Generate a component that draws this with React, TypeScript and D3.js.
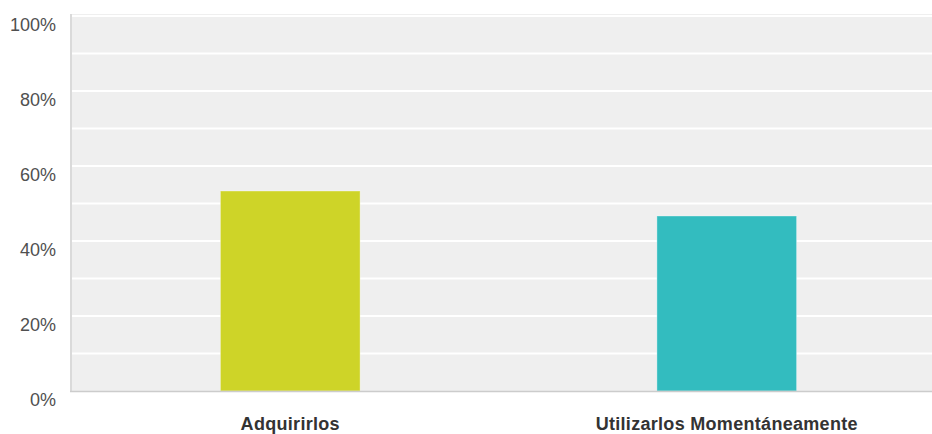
import React, { useEffect } from "react";
import * as d3 from "d3";

const categories = ["Adquirirlos", "Utilizarlos Momentáneamente"];
const values = [53.33, 46.67];
const colors = ["#CED428", "#33BCBF"];
const yTicks = [0, 20, 40, 60, 80, 100];
const gridTicks = [10, 20, 30, 40, 50, 60, 70, 80, 90, 100];

const W = 932;
const H = 434;
const plotLeft = 72;
const plotRight = 945;
const plotTop = 14;
const plotBottom = 391;

export default function App() {
  useEffect(() => {
    document.body.style.margin = "0";
  }, []);

  const x = d3.scaleBand<string>().domain(categories).range([plotLeft, plotRight]).paddingInner(0.68).paddingOuter(0.34);
  const y = d3.scaleLinear().domain([0, 100]).range([plotBottom, 16]);

  return (
    <svg width={W} height={H} style={{ display: "block", fontFamily: "'Liberation Sans', Arial, sans-serif" }}>
      <rect x={plotLeft} y={plotTop} width={W - plotLeft} height={plotBottom - plotTop} fill="#EFEFEF" />
      {gridTicks.map((t) => (
        <line key={t} x1={plotLeft} x2={W} y1={y(t)} y2={y(t)} stroke="#FFFFFF" strokeWidth={2} />
      ))}
      <line x1={plotLeft - 1} x2={plotLeft - 1} y1={plotTop} y2={plotBottom} stroke="#DADADA" strokeWidth={2} />
      {categories.map((c, i) => (
        <rect
          key={c}
          x={x(c)}
          y={y(values[i])}
          width={x.bandwidth()}
          height={plotBottom - y(values[i])}
          fill={colors[i]}
          stroke="rgba(255,255,255,0.35)"
          strokeWidth={1}
        />
      ))}
      <line x1={plotLeft - 2} x2={W} y1={plotBottom + 0.5} y2={plotBottom + 0.5} stroke="#CCCCCC" strokeWidth={1.5} />
      {yTicks.map((t) => (
        <text key={t} x={56} y={y(t) + 15} textAnchor="end" fontSize={18} fill="#505050">
          {t}%
        </text>
      ))}
      {categories.map((c) => (
        <text key={c} x={(x(c) as number) + x.bandwidth() / 2} y={430} textAnchor="middle" fontSize={18} fontWeight="bold" letterSpacing={0.3} fill="#333">
          {c}
        </text>
      ))}
    </svg>
  );
}
